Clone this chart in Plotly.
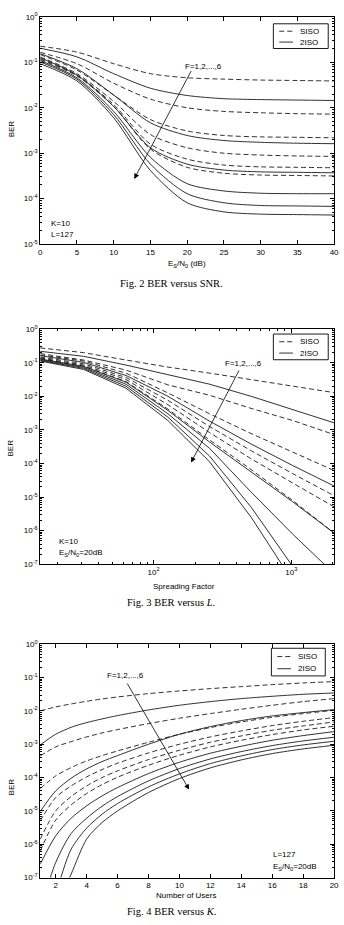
import plotly.graph_objects as go

W, H = 344, 925

# ---------------- Fig. 2 : BER versus SNR (values are log10(BER)) ----------------
snr_db = [0, 5, 10, 15, 20, 25, 30, 35, 40]
fig2_siso_log = [
    [-0.645, -0.775, -1.03, -1.25, -1.34, -1.37, -1.39, -1.40, -1.41],
    [-0.78, -1.03, -1.46, -1.81, -2.00, -2.08, -2.11, -2.13, -2.14],
    [-0.83, -1.17, -1.72, -2.26, -2.51, -2.61, -2.64, -2.65, -2.66],
    [-0.88, -1.25, -1.86, -2.59, -2.88, -3.00, -3.04, -3.06, -3.07],
    [-0.92, -1.28, -1.93, -2.80, -3.13, -3.26, -3.30, -3.31, -3.32],
    [-0.94, -1.30, -1.97, -2.91, -3.31, -3.44, -3.48, -3.49, -3.50],
]
fig2_2iso_log = [
    [-0.69, -0.88, -1.25, -1.57, -1.73, -1.80, -1.82, -1.83, -1.84],
    [-0.81, -1.14, -1.72, -2.33, -2.61, -2.72, -2.76, -2.78, -2.79],
    [-0.90, -1.28, -1.97, -2.88, -3.24, -3.37, -3.41, -3.42, -3.43],
    [-0.96, -1.34, -2.08, -3.09, -3.67, -3.83, -3.88, -3.89, -3.89],
    [-0.99, -1.37, -2.15, -3.24, -3.89, -4.09, -4.15, -4.16, -4.17],
    [-1.03, -1.41, -2.22, -3.38, -4.09, -4.29, -4.34, -4.35, -4.36],
]

# ---------------- Fig. 3 : BER versus L ----------------
spreading_factor = [15, 31, 63, 127, 255, 511, 1023, 2047]
fig3_siso_log = [
    [-0.56, -0.70, -0.92, -1.13, -1.31, -1.51, -1.71, -1.89],
    [-0.73, -0.92, -1.22, -1.66, -1.97, -2.36, -2.72, -3.14],
    [-0.77, -0.95, -1.31, -1.90, -2.52, -3.11, -3.66, -4.21],
    [-0.83, -1.03, -1.44, -2.12, -2.90, -3.62, -4.30, -4.96],
    [-0.86, -1.07, -1.50, -2.25, -3.08, -3.86, -4.58, -5.29],
    [-0.88, -1.10, -1.56, -2.38, -3.30, -4.18, -5.10, -6.07],
]
fig3_2iso_log = [
    [-0.66, -0.81, -1.07, -1.36, -1.64, -2.00, -2.40, -2.79],
    [-0.79, -0.99, -1.38, -2.00, -2.74, -3.42, -4.06, -4.67],
    [-0.89, -1.11, -1.58, -2.42, -3.36, -4.24, -5.14, -6.07],
    [-0.91, -1.14, -1.64, -2.52, -3.55, -4.85, -6.10, -7.28],
    [-0.93, -1.17, -1.70, -2.62, -3.78, -5.30, -7.06, -8.80],
    [-0.95, -1.20, -1.76, -2.72, -3.95, -5.60, -7.50, -9.30],
]

# ---------------- Fig. 4 : BER versus K ----------------
num_users = [1, 2, 3, 4, 5, 6, 8, 10, 12, 14, 16, 18, 20]
fig4_siso_log = [
    [-2.00, -1.88, -1.79, -1.71, -1.64, -1.58, -1.48, -1.40, -1.33, -1.27, -1.21, -1.16, -1.12],
    [-3.35, -3.08, -2.92, -2.78, -2.66, -2.56, -2.38, -2.22, -2.08, -1.95, -1.83, -1.72, -1.63],
    [-4.33, -3.95, -3.70, -3.50, -3.34, -3.20, -2.94, -2.70, -2.50, -2.33, -2.19, -2.08, -1.98],
    [-5.30, -4.60, -4.25, -3.98, -3.76, -3.57, -3.26, -3.00, -2.78, -2.60, -2.44, -2.31, -2.20],
    [-5.85, -5.00, -4.57, -4.25, -4.00, -3.80, -3.46, -3.18, -2.94, -2.75, -2.58, -2.45, -2.33],
    [-6.20, -5.28, -4.82, -4.48, -4.21, -3.99, -3.63, -3.33, -3.08, -2.88, -2.71, -2.57, -2.46],
]
fig4_2iso_log = [
    [-3.02, -2.70, -2.49, -2.35, -2.24, -2.14, -1.97, -1.83, -1.72, -1.63, -1.56, -1.50, -1.46],
    [-5.02, -4.40, -4.02, -3.74, -3.52, -3.34, -3.00, -2.70, -2.47, -2.29, -2.15, -2.05, -1.96],
    [-6.60, -5.75, -5.22, -4.85, -4.55, -4.30, -3.88, -3.54, -3.27, -3.06, -2.88, -2.74, -2.62],
    [-8.00, -6.55, -5.68, -5.22, -4.86, -4.57, -4.10, -3.73, -3.44, -3.22, -3.04, -2.90, -2.79],
    [-9.00, -7.50, -6.15, -5.52, -5.10, -4.78, -4.28, -3.89, -3.58, -3.35, -3.16, -3.02, -2.91],
    [-9.80, -8.00, -6.90, -5.85, -5.35, -5.00, -4.45, -4.03, -3.71, -3.47, -3.28, -3.14, -3.03],
]

series_names = ["SISO", "2ISO"]

# ---------------- helpers ----------------
def px_x(x):
    return x / W

def px_y(y):
    return 1 - y / H

FONT = "Liberation Sans, Arial, Helvetica, sans-serif"
SERIF = "Liberation Serif, Times New Roman, serif"
LINE_COLOR = "#1a1a1a"
DASH = "5px,3px"
TICKFONT = dict(family=FONT, size=8, color="black")

fig = go.Figure()

panels = [
    dict(x=snr_db, siso=fig2_siso_log, iso=fig2_2iso_log, xa="x", ya="y", shape="spline"),
    dict(x=spreading_factor, siso=fig3_siso_log, iso=fig3_2iso_log, xa="x2", ya="y2", shape="linear"),
    dict(x=num_users, siso=fig4_siso_log, iso=fig4_2iso_log, xa="x3", ya="y3", shape="spline"),
]

for p in panels:
    for row in p["siso"]:
        fig.add_trace(go.Scatter(
            x=p["x"], y=[10 ** v for v in row], mode="lines",
            line=dict(color=LINE_COLOR, width=0.9, dash=DASH, shape=p["shape"], smoothing=0.8),
            name=series_names[0], showlegend=False,
            xaxis=p["xa"], yaxis=p["ya"], hoverinfo="skip"))
    for row in p["iso"]:
        fig.add_trace(go.Scatter(
            x=p["x"], y=[10 ** v for v in row], mode="lines",
            line=dict(color=LINE_COLOR, width=0.9, shape=p["shape"], smoothing=0.8),
            name=series_names[1], showlegend=False,
            xaxis=p["xa"], yaxis=p["ya"], hoverinfo="skip"))

# plot boxes (pixels)
X0, X1 = 39, 339
boxes = [(11, 241), (327, 565), (646, 882)]

def ylog_axis(top, bottom, lo):
    vals = [10.0 ** e for e in range(lo, 1)]
    text = ["10<sup>%d</sup>" % e for e in range(lo, 1)]
    minor_vals = [m * 10.0 ** e for e in range(lo, 0) for m in range(2, 10)]
    return dict(
        type="log", range=[lo, 0], domain=[px_y(bottom), px_y(top)],
        tickvals=vals, ticktext=text, ticks="inside", ticklen=4, tickwidth=0.8,
        tickcolor="black", showline=True, linecolor="black", linewidth=0.9,
        mirror="allticks", showgrid=False, zeroline=False, tickfont=TICKFONT,
        minor=dict(tickvals=minor_vals, ticks="inside", ticklen=2, tickwidth=0.6, tickcolor="black"),
        fixedrange=True)

common_x = dict(ticks="inside", ticklen=4, tickwidth=0.8, tickcolor="black", showline=True,
                linecolor="black", linewidth=0.9, mirror="allticks", showgrid=False,
                zeroline=False, tickfont=TICKFONT, domain=[px_x(X0), px_x(X1)], fixedrange=True)

xa1 = dict(common_x, range=[0, 40], tickvals=list(range(0, 41, 5)), anchor="y")
xa2 = dict(common_x, type="log", range=[1.1761, 3.3111], tickvals=[100, 1000],
           ticktext=["10<sup>2</sup>", "10<sup>3</sup>"], anchor="y2",
           minor=dict(tickvals=[20, 30, 40, 50, 60, 70, 80, 90, 200, 300, 400, 500, 600, 700, 800, 900, 2000],
                      ticks="inside", ticklen=2, tickwidth=0.6, tickcolor="black"))
xa3 = dict(common_x, range=[1, 20], tickvals=list(range(2, 21, 2)), anchor="y3")

ya1 = ylog_axis(*boxes[0], -5); ya1["anchor"] = "x"
ya2 = ylog_axis(*boxes[1], -7); ya2["anchor"] = "x2"
ya3 = ylog_axis(*boxes[2], -7); ya3["anchor"] = "x3"

annotations = []
shapes = []

def txt(x, y, s, size=8, family=FONT, xanchor="center", angle=0):
    annotations.append(dict(x=px_x(x), y=px_y(y), xref="paper", yref="paper", text=s,
                            showarrow=False, xanchor=xanchor, yanchor="middle", textangle=angle,
                            font=dict(family=family, size=size, color="black")))

def arrow(hx, hy, tx, ty, label, lx, ly):
    annotations.append(dict(x=px_x(hx), y=px_y(hy), xref="paper", yref="paper", text=" ",
                            showarrow=True, ax=tx - hx, ay=ty - hy, arrowhead=2, arrowsize=1.3,
                            arrowwidth=0.8, arrowcolor="black", standoff=0,
                            font=dict(size=1)))
    txt(lx, ly, label)

def legend_box(left, top, right, bottom):
    shapes.append(dict(type="rect", xref="paper", yref="paper",
                       x0=px_x(left), x1=px_x(right), y0=px_y(bottom), y1=px_y(top),
                       line=dict(color="black", width=0.9), fillcolor="white", layer="above"))
    rows = [(top + (bottom - top) * 0.30, DASH, series_names[0]),
            (top + (bottom - top) * 0.74, "solid", series_names[1])]
    for yy, dash, name in rows:
        shapes.append(dict(type="line", xref="paper", yref="paper",
                           x0=px_x(left + 6), x1=px_x(left + 20), y0=px_y(yy), y1=px_y(yy),
                           line=dict(color=LINE_COLOR, width=0.9, dash=dash), layer="above"))
        txt(left + 25, yy, name, xanchor="left")

# Fig 2 texts
txt(10, 124, "BER", angle=-90)
txt(189, 261, "E<sub>S</sub>/N<sub>0</sub> (dB)")
txt(173, 281, "Fig. 2 BER versus SNR.", size=10.5, family=SERIF)
txt(48, 220, "K=10", xanchor="left")
txt(48, 231, "L=127", xanchor="left")
arrow(135, 175, 193, 65, "F=1,2,...,6", 206, 61)
legend_box(277, 18, 333, 43)

# Fig 3 texts
txt(9, 447, "BER", angle=-90)
txt(186, 587, "Spreading Factor")
txt(173, 604, "Fig. 3 BER versus <i>L</i>.", size=10.5, family=SERIF)
txt(56, 542, "K=10", xanchor="left")
txt(56, 554, "E<sub>S</sub>/N<sub>0</sub>=20dB", xanchor="left")
arrow(193, 462, 242, 368, "F=1,2,...,6", 247, 362)
legend_box(277, 332, 333, 358)

# Fig 4 texts
txt(10, 790, "BER", angle=-90)
txt(188, 900, "Number of Users")
txt(173, 916, "Fig. 4 BER versus <i>K</i>.", size=10.5, family=SERIF)
txt(275, 859, "L=127", xanchor="left")
txt(275, 871, "E<sub>S</sub>/N<sub>0</sub>=20dB", xanchor="left")
arrow(191, 793, 128, 685, "F=1,2,...,6", 126, 678)
legend_box(275, 650, 330, 678)

fig.update_layout(
    width=W, height=H, margin=dict(l=0, r=0, t=0, b=0),
    paper_bgcolor="white", plot_bgcolor="white",
    font=dict(family=FONT, size=8, color="black"),
    xaxis=xa1, yaxis=ya1, xaxis2=xa2, yaxis2=ya2, xaxis3=xa3, yaxis3=ya3,
    annotations=annotations, shapes=shapes, showlegend=False,
)

fig.write_html("out.html")
